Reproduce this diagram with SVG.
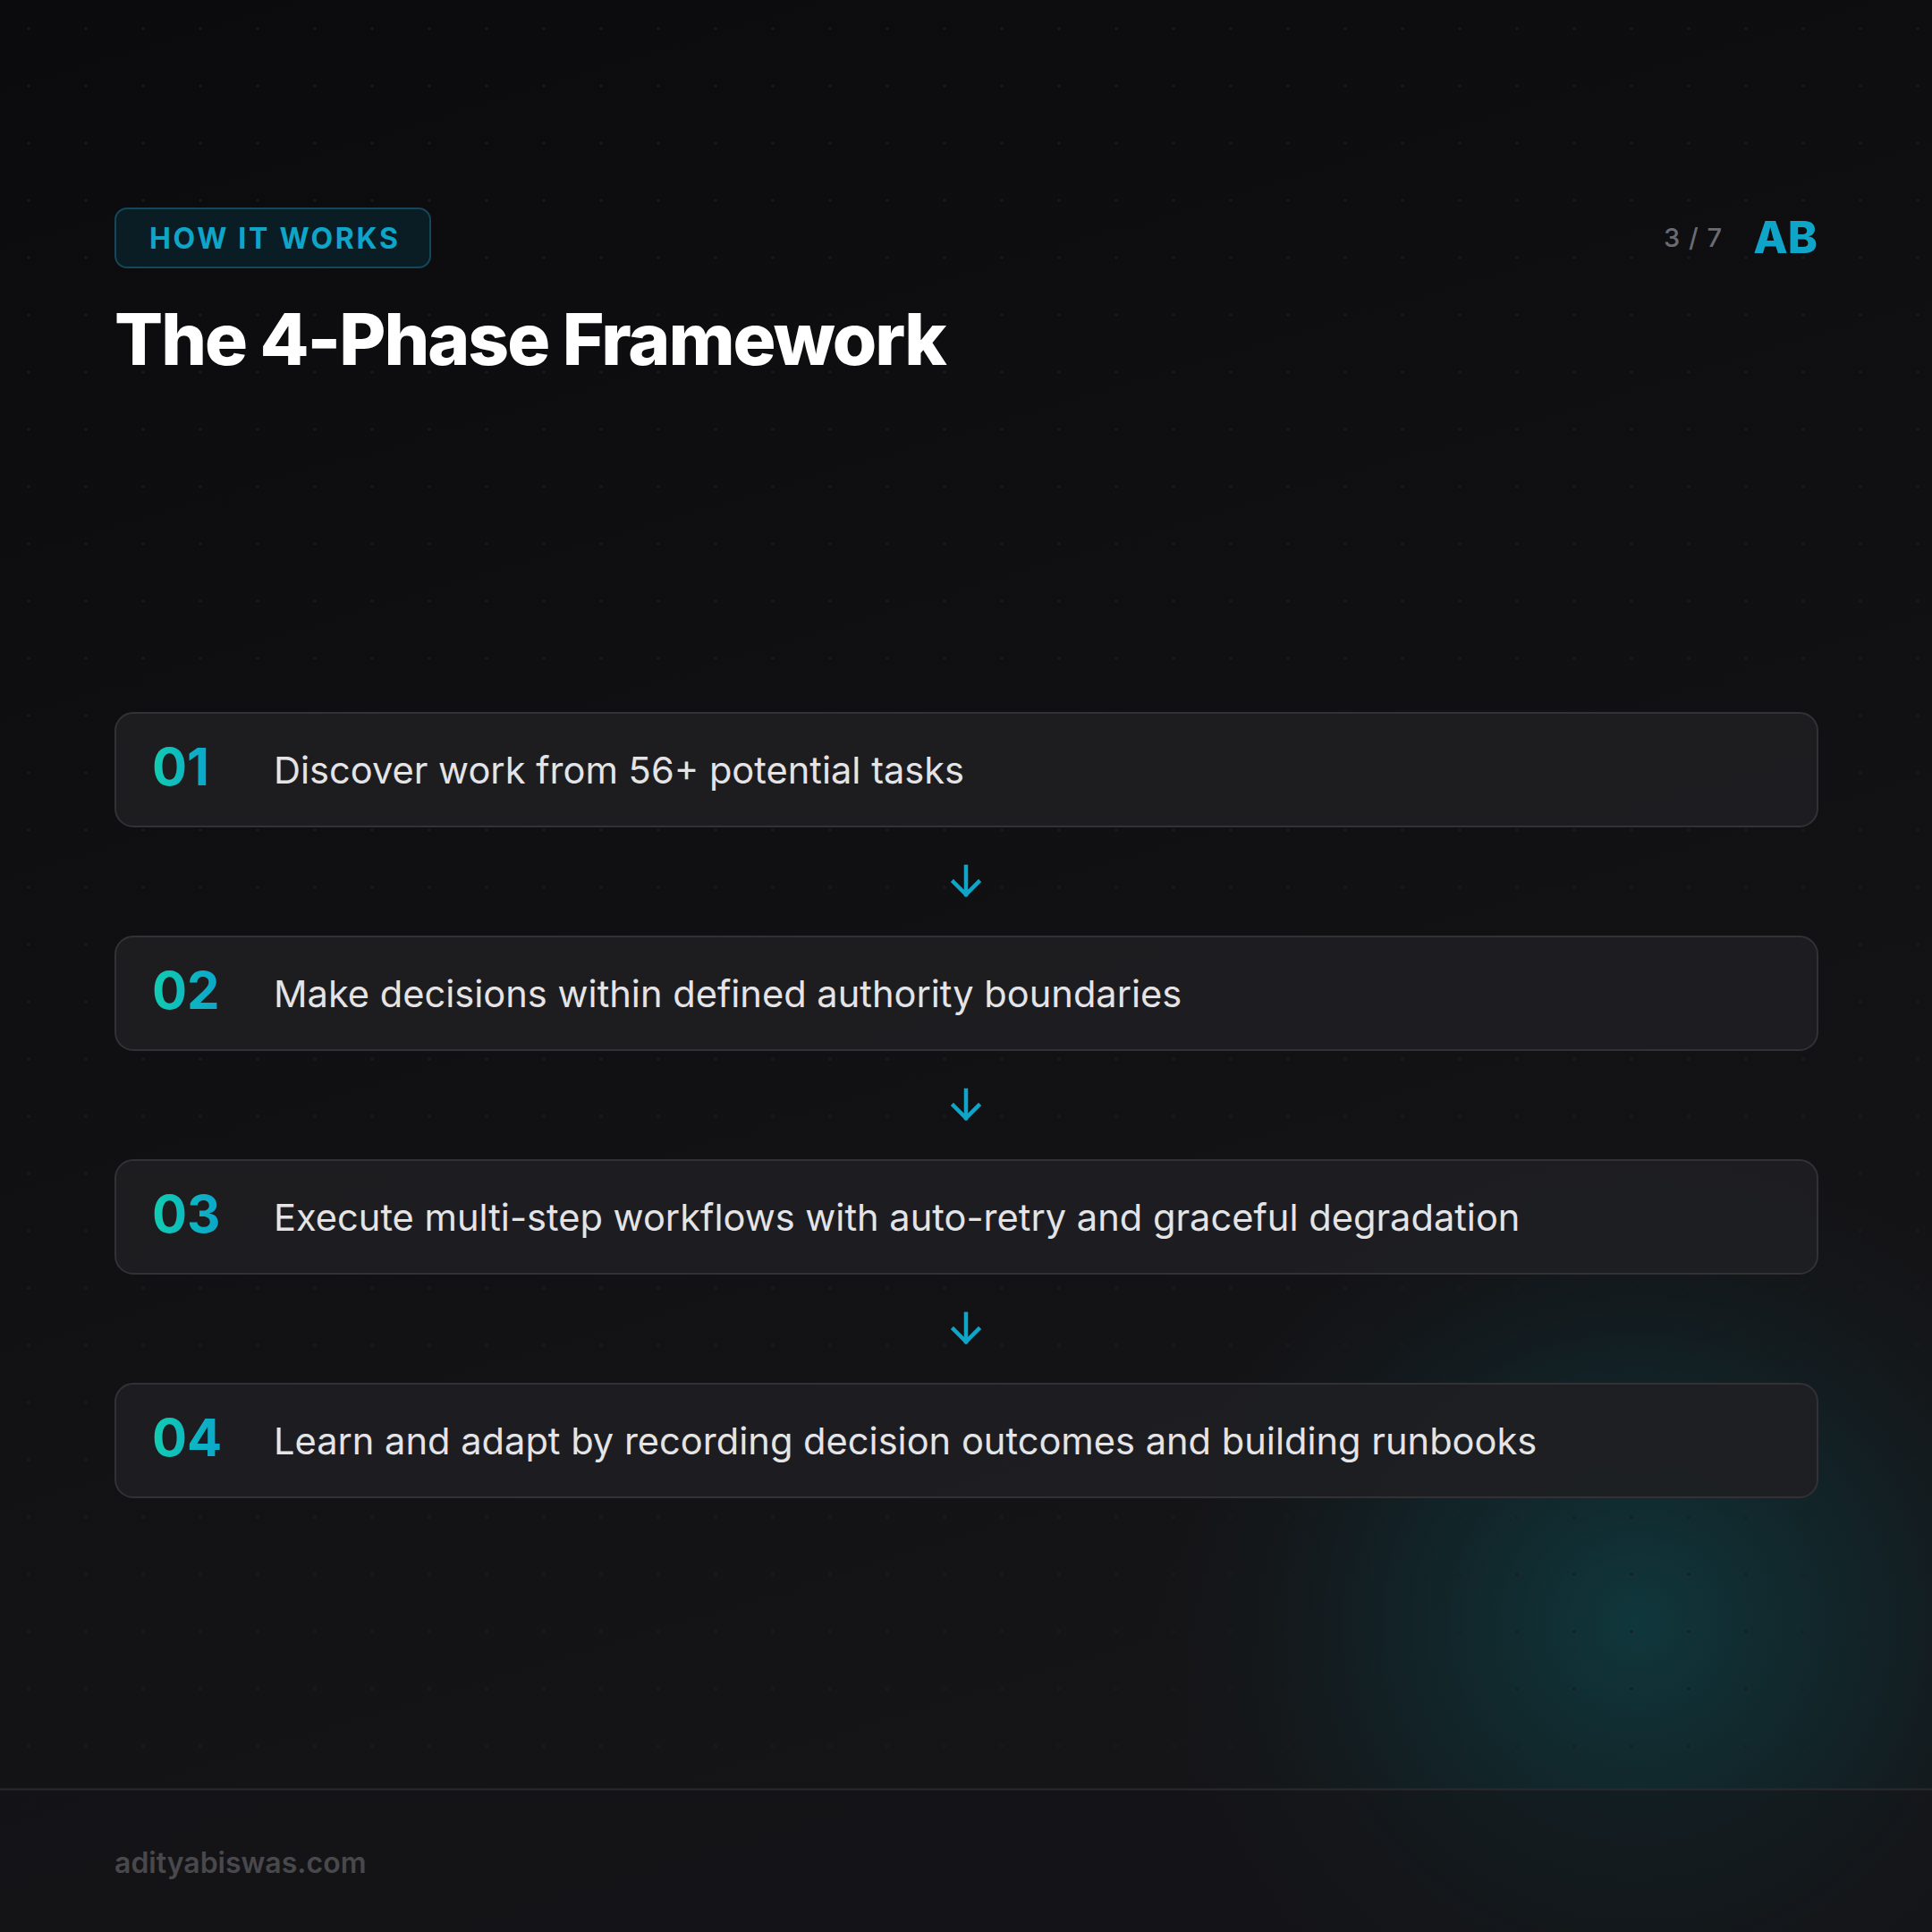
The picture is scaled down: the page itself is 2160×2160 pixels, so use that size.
<svg xmlns="http://www.w3.org/2000/svg" width="2160" height="2160" viewBox="0 0 2160 2160">
<defs>
<linearGradient id="bg" x1="0" y1="0" x2="0.3" y2="1">
<stop offset="0" stop-color="#0b0b0d"/>
<stop offset="1" stop-color="#151518"/>
</linearGradient>
<radialGradient id="glow" cx="1830" cy="1815" r="560" gradientUnits="userSpaceOnUse">
<stop offset="0" stop-color="#0f3b40" stop-opacity="0.9"/>
<stop offset="0.5" stop-color="#0f3136" stop-opacity="0.45"/>
<stop offset="1" stop-color="#151518" stop-opacity="0"/>
</radialGradient>
<pattern id="dots" x="0" y="0" width="64" height="64" patternUnits="userSpaceOnUse">
<circle cx="32" cy="32" r="1.6" fill="#1b1b1f"/>
</pattern>
<linearGradient id="num" x1="0" y1="0" x2="1" y2="0">
<stop offset="0" stop-color="#12cdb0"/>
<stop offset="1" stop-color="#0ba5cc"/>
</linearGradient>
<style>
.card{fill:#1f1f22;fill-opacity:0.9;stroke:#323236;stroke-width:2}
.num{font-family:Inter,"Liberation Sans",sans-serif;font-weight:700;font-size:58px;fill:url(#num)}
.txt{font-family:Inter,"Liberation Sans",sans-serif;font-weight:400;font-size:41.6px;fill:#e4e4e7}
.arrow{fill:none;stroke:#0ea5c9;stroke-width:4.5;stroke-linecap:square;stroke-linejoin:miter}
</style>
</defs>
<rect width="2160" height="2160" fill="url(#bg)"/>
<rect width="2160" height="2160" fill="url(#glow)"/>
<rect width="2160" height="2160" fill="url(#dots)"/>

<g id="badge">
<rect x="129" y="233" width="352" height="66" rx="13" fill="#0a1d24" stroke="#14475a" stroke-width="2"/>
<text x="167" y="278" font-family="Inter,'Liberation Sans',sans-serif" font-weight="700" font-size="32" letter-spacing="2.7" fill="#0ea5c9">HOW IT WORKS</text>
</g>
<g id="pager">
<text x="1926" y="276" text-anchor="end" font-family="Inter,'Liberation Sans',sans-serif" font-weight="500" font-size="29" letter-spacing="1" fill="#6b6b71">3 / 7</text>
<text x="2032" y="283" text-anchor="end" font-family="Inter,'Liberation Sans',sans-serif" font-weight="800" font-size="50" fill="#0ea5c9">AB</text>
</g>
<g id="title">
<text x="128" y="408" font-family="Inter,'Liberation Sans',sans-serif" font-weight="800" font-size="80" letter-spacing="-2" fill="#ffffff">The 4-Phase Framework</text>
</g>

<g id="phase1">
<rect class="card" x="129" y="797" width="1903" height="127" rx="20"/>
<text class="num" x="170" y="878">01</text>
<text class="txt" x="306" y="876">Discover work from 56+ potential tasks</text>
</g>
<g id="phase2">
<rect class="card" x="129" y="1047" width="1903" height="127" rx="20"/>
<text class="num" x="170" y="1128">02</text>
<text class="txt" x="306" y="1126">Make decisions within defined authority boundaries</text>
</g>
<g id="phase3">
<rect class="card" x="129" y="1297" width="1903" height="127" rx="20"/>
<text class="num" x="170" y="1378">03</text>
<text class="txt" x="306" y="1376">Execute multi-step workflows with auto-retry and graceful degradation</text>
</g>
<g id="phase4">
<rect class="card" x="129" y="1547" width="1903" height="127" rx="20"/>
<text class="num" x="170" y="1628">04</text>
<text class="txt" x="306" y="1626">Learn and adapt by recording decision outcomes and building runbooks</text>
</g>

<g id="connectors">
<path class="arrow" d="M1080 969 V1000 M1066 986 L1080 1000 L1094 986"/>
<path class="arrow" d="M1080 1219 V1250 M1066 1236 L1080 1250 L1094 1236"/>
<path class="arrow" d="M1080 1469 V1500 M1066 1486 L1080 1500 L1094 1486"/>
</g>

<g id="footer">
<rect x="0" y="2001" width="2160" height="159" fill="#141417" fill-opacity="0.5"/>
<line x1="0" y1="2000.5" x2="2160" y2="2000.5" stroke="#2a2a2e" stroke-width="2"/>
<text x="128" y="2094" font-family="Inter,'Liberation Sans',sans-serif" font-weight="600" font-size="32" fill="#48484d">adityabiswas.com</text>
</g>
</svg>
